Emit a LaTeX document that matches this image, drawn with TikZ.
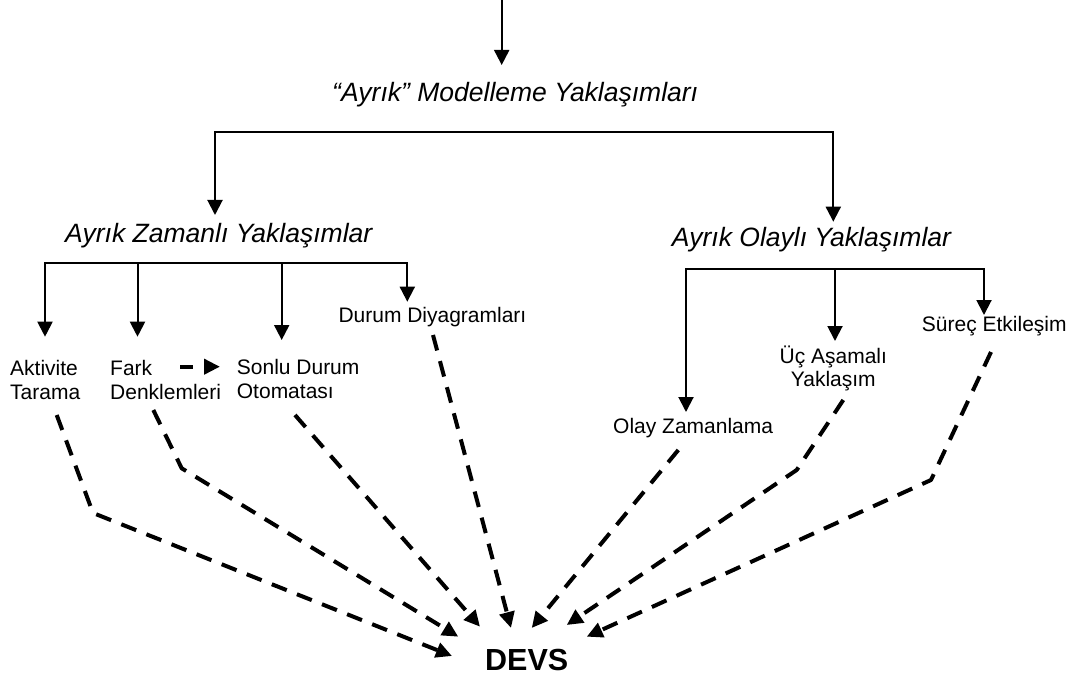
\documentclass[tikz,border=0pt]{standalone}
\usepackage{fontspec}
\setmainfont{Liberation Sans}
\usetikzlibrary{arrows.meta}
\begin{document}
\begin{tikzpicture}[x=1pt,y=-1pt,
  lbl/.style={inner sep=0pt, anchor=base west, font=\fontsize{21}{23.5}\selectfont},
  head/.style={inner sep=0pt, anchor=base west, font=\fontsize{26.5}{30}\selectfont\itshape},
  solidarr/.style={line width=2pt, -{Triangle[length=15pt,width=15pt]}},
  bothsolid/.style={line width=2pt, {Triangle[length=15pt,width=15pt]}-{Triangle[length=15pt,width=15pt]}},
  dasharr/.style={line width=4pt, dash pattern=on 16pt off 11pt, line join=round,
                  -{Triangle[length=16pt,width=15pt]}}]
\useasboundingbox (0,0) rectangle (1073,676);

% ---- labels (multi-line nodes are anchored on their last baseline) ----
\node[head] (top)   at (332,102)   {“Ayrık” Modelleme Yaklaşımları};
\node[head] (zam)   at (65,243)    {Ayrık Zamanlı Yaklaşımlar};
\node[head] (olay)  at (671.7,247) {Ayrık Olaylı Yaklaşımlar};

\node[lbl, align=left] (akt)   at (10,399)    {Aktivite\\Tarama};
\node[lbl, align=left] (fark)  at (110,399)   {Fark\\Denklemleri};
\node[lbl, align=left] (sonlu) at (236.7,398) {Sonlu Durum\\Otomatası};
\node[lbl] (durum) at (338.3,322.7) {Durum Diyagramları};
\node[lbl] (olayz) at (613,433)     {Olay Zamanlama};
\node[lbl, align=center, anchor=base] (uc) at (833.3,386.7) {Üç Aşamalı\\Yaklaşım};
\node[lbl] (surec) at (921.7,331.7) {Süreç Etkileşim};

\node[inner sep=0pt, anchor=base west, font=\fontsize{30.5}{36}\selectfont\bfseries] (devs) at (485,670) {DEVS};

% ---- solid tree ----
\coordinate (src)    at (501.7,0);
\coordinate (toptip) at (501.7,65);
\draw[solidarr] (src) -- (toptip);

\coordinate (topbar) at (501.7,131.7);
\coordinate (zamtip) at (215,215);
\coordinate (oltip)  at (833.3,221.7);
\draw[bothsolid] (zamtip) |- (topbar) -| (oltip);

\coordinate (zbar)     at (226,263.3);
\coordinate (akttip)   at (45,336.7);
\coordinate (farktip)  at (137.5,336.7);
\coordinate (sonlutip) at (281.7,340);
\coordinate (durtip)   at (407.3,301.7);
\draw[bothsolid] (akttip) |- (zbar) -| (durtip);
\draw[solidarr] (zbar -| farktip) -- (farktip);
\draw[solidarr] (zbar -| sonlutip) -- (sonlutip);

\coordinate (obar)  at (835,269.3);
\coordinate (olzt)  at (686,412);
\coordinate (uct)   at (835,341);
\coordinate (surt)  at (984,315);
\draw[bothsolid] (olzt) |- (obar) -| (surt);
\draw[solidarr] (obar) -- (uct);

% ---- dashed links into DEVS ----
\coordinate (fs1) at (180,366.7);
\coordinate (fs2) at (220,366.7);
\draw[dasharr, dash pattern=on 13pt off 12pt] (fs1) -- (fs2);

\coordinate (a1) at (56.7,415);  \coordinate (a2) at (93,513);    \coordinate (a3) at (452,656);
\coordinate (d1) at (153.3,410); \coordinate (d2) at (181.7,468.3); \coordinate (d3) at (458.3,636.7);
\coordinate (s1) at (295,415);   \coordinate (s3) at (480,626.7);
\coordinate (g1) at (433,335);   \coordinate (g3) at (511,628);
\coordinate (o1) at (678.3,450); \coordinate (o3) at (531.7,628);
\coordinate (u1) at (843.3,400); \coordinate (u2) at (796.7,470); \coordinate (u3) at (566.7,625);
\coordinate (e1) at (991,352);   \coordinate (e2) at (931,480);   \coordinate (e3) at (586.7,636.7);

\draw[dasharr] (a1) -- (a2) -- (a3);
\draw[dasharr] (d1) -- (d2) -- (d3);
\draw[dasharr] (s1) -- (s3);
\draw[dasharr] (g1) -- (g3);
\draw[dasharr] (o1) -- (o3);
\draw[dasharr] (u1) -- (u2) -- (u3);
\draw[dasharr] (e1) -- (e2) -- (e3);
\end{tikzpicture}
\end{document}
